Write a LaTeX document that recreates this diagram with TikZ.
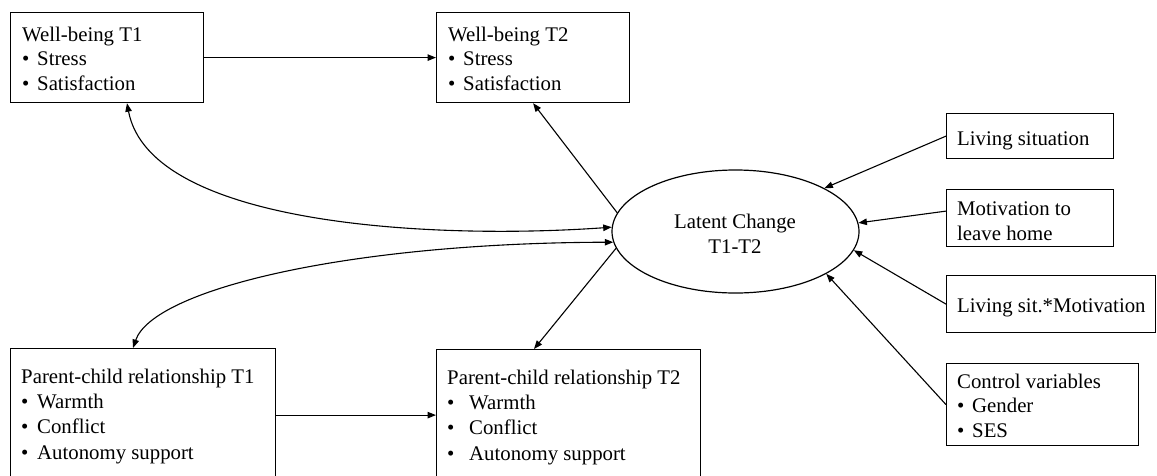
\documentclass[tikz,border=0pt]{standalone}
\usepackage{fontspec}
\setmainfont{Liberation Serif}
\usetikzlibrary{arrows.meta,shapes.geometric,calc}
\newcommand{\fs}{\fontsize{20.8}{25}\selectfont}
\newcommand{\bl}[1]{\makebox[#1][l]{•}}
\tikzset{
  box/.style={draw, line width=1.2pt, inner sep=0pt, anchor=north west},
  txt/.style={anchor=base west, inner sep=0pt, font=\fs},
  ctxt/.style={anchor=base, inner sep=0pt, font=\fs},
  arr/.style={line width=1.1pt, -{Triangle[length=8.5pt,width=6.5pt]}},
  dbl/.style={line width=1.1pt, {Triangle[length=8.5pt,width=6.5pt]}-{Triangle[length=8.5pt,width=6.5pt]}}
}
\begin{document}
\begin{tikzpicture}[x=1pt,y=-1pt]
\useasboundingbox (0,0) rectangle (1157,475);
\clip (0,0) rectangle (1157,475);
% boxes
\node[box, minimum width=193pt, minimum height=90pt] (wb1) at (10,12) {};
\node[box, minimum width=193pt, minimum height=90pt] (wb2) at (436,12) {};
\node[box, minimum width=265pt, minimum height=133pt] (pc1) at (10,348) {};
\node[box, minimum width=264pt, minimum height=132pt] (pc2) at (436,349) {};
\node[box, minimum width=167pt, minimum height=45pt] (ls) at (946,113) {};
\node[box, minimum width=167pt, minimum height=57pt] (mot) at (946,189) {};
\node[box, minimum width=209pt, minimum height=57pt] (lsm) at (946,275) {};
\node[box, minimum width=192pt, minimum height=82pt] (cv) at (946,363) {};
\node[draw, ellipse, line width=1.2pt, inner sep=0pt, minimum width=247pt, minimum height=123pt] (lc) at (735.5,231.5) {};
% texts
\node[txt] (wb1t) at (22,41) {Well-being T1};
\node[txt] (wb1a) at (22,65.5) {\bl{15pt}Stress};
\node[txt] (wb1b) at (22,90) {\bl{15pt}Satisfaction};
\node[txt] (wb2t) at (448,41) {Well-being T2};
\node[txt] (wb2a) at (448,65.5) {\bl{15pt}Stress};
\node[txt] (wb2b) at (448,90) {\bl{15pt}Satisfaction};
\node[txt] (pc1t) at (21,383) {Parent-child relationship T1};
\node[txt] (pc1a) at (21,408) {\bl{16pt}Warmth};
\node[txt] (pc1b) at (21,433.5) {\bl{16pt}Conflict};
\node[txt] (pc1c) at (21,459) {\bl{16pt}Autonomy support};
\node[txt] (pc2t) at (447,384) {Parent-child relationship T2};
\node[txt] (pc2a) at (447,409) {\bl{22pt}Warmth};
\node[txt] (pc2b) at (447,434.5) {\bl{22pt}Conflict};
\node[txt] (pc2c) at (447,460) {\bl{22pt}Autonomy support};
\node[txt] (lst) at (957,145) {Living situation};
\node[txt] (mota) at (957,215) {Motivation to};
\node[txt] (motb) at (957,240) {leave home};
\node[txt] (lsmt) at (957,312) {Living sit.*Motivation};
\node[txt] (cvt) at (957,388) {Control variables};
\node[txt] (cva) at (957,412) {\bl{15pt}Gender};
\node[txt] (cvb) at (957,437) {\bl{15pt}SES};
\node[ctxt] (lca) at (735,228) {Latent Change};
\node[ctxt] (lcb) at (735,253) {T1-T2};
% connectors
\draw[arr] (wb1.east) -- (wb2.west);
\draw[arr] (pc1.east) -- (pc1.east -| pc2.west);
\draw[arr] (lc.171) -- (wb2.south);
\draw[arr] (lc.188) -- ([xshift=98pt]pc2.north west);
\draw[arr] (ls.west) -- (lc.26);
\draw[arr] ([yshift=7pt]mot.west) -- (lc.4);
\draw[arr] (lsm.west) -- (lc.-9);
\draw[arr] (cv.west) -- (lc.-25);
\draw[dbl] (lc.178.5) .. controls (430,240) and (150,225) .. ([xshift=117pt]wb1.south west);
\draw[dbl] (lc.185) .. controls (345,243) and (153,290) .. ([xshift=123pt]pc1.north west);
\end{tikzpicture}
\end{document}
